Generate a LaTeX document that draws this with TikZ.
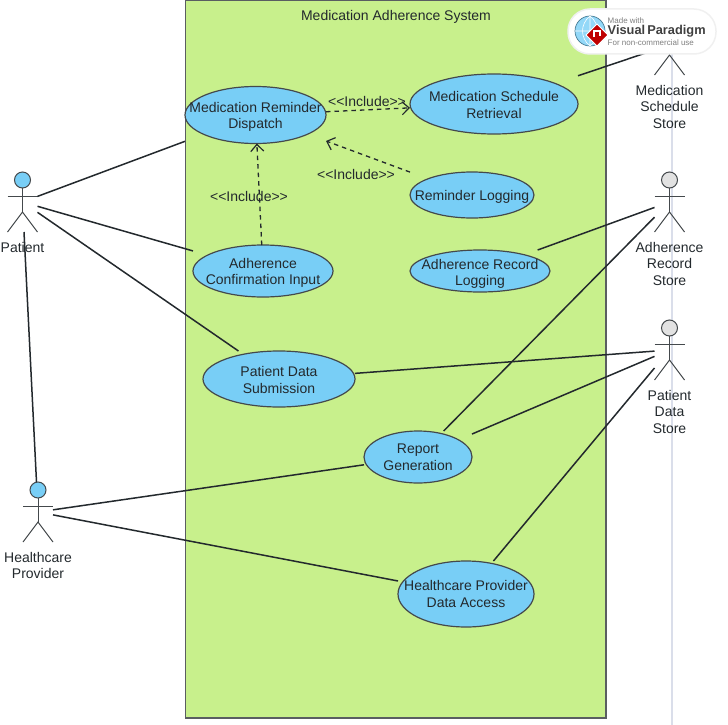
\documentclass[tikz,border=0pt]{standalone}
\usepackage{fontspec}
\setmainfont{Liberation Sans}
\usetikzlibrary{arrows.meta}
\definecolor{sysgreen}{HTML}{C8F08C}
\definecolor{caseblue}{HTML}{78CEF6}
\definecolor{storegray}{HTML}{E2E2E2}
\definecolor{inkdark}{HTML}{23292D}
\definecolor{seamgray}{HTML}{DADEEA}
\tikzset{
    linkline/.style={draw=inkdark,line width=1.5pt},
    includeline/.style={draw=inkdark,line width=1.3pt,dash pattern=on 4.5pt off 4pt,-{Straight Barb[length=7pt,width=13pt,line width=1.2pt]}},
    labeltext/.style={font=\fontsize{14}{16.6}\selectfont,text=inkdark,align=center,inner sep=0pt,outer sep=0pt},
    casebox/.style={rectangle,inner sep=0pt,outer sep=0pt},
    caseshape/.style={fill=caseblue,draw=inkdark!85,line width=1.2pt},
    actorbox/.style={rectangle,inner sep=0pt,outer sep=0pt,minimum width=30pt,minimum height=60pt},
    actorline/.style={draw=inkdark!85,line width=1pt}
}
% ellipse drawn apart, the box round it is what the links stop at
\newcommand{\usecase}[7][2]{
    \draw[caseshape] (#3,#4) ellipse[x radius=#5pt,y radius=#6pt];
    \node[casebox,minimum width={2*#5pt},minimum height={2*#6pt}] (#2) at (#3,#4) {};
    \node[labeltext] (#2text) at (#3,#4+#1) {#7};
}
\newcommand{\actor}[5]{
    \node[actorbox] (#1) at (#2,#3) {};
    \draw[actorline,fill=#4] (#2,#3-22) circle[radius=8pt];
    \draw[actorline] (#2,#3-14) -- (#2,#3+10);
    \draw[actorline] (#2-15,#3-6) -- (#2+15,#3-6);
    \draw[actorline] (#2-15,#3+30) -- (#2,#3+10) -- (#2+15,#3+30);
    \node[labeltext,anchor=north] (#1label) at (#2,#3+40) {#5};
}
\begin{document}
\begin{tikzpicture}[x=1pt,y=-1pt]
    \useasboundingbox (0,0) rectangle (728,725);
    \draw[fill=sysgreen,draw=inkdark!75,line width=1.5pt] (185.5,0) rectangle (606,718);
    \node[labeltext] (systitle) at (396,17) {Medication Adherence System};
    \draw[seamgray,line width=2.6pt] (672,50) -- (672,725);

    \usecase{remind}{255.5}{115}{70.5}{28.5}{Medication Reminder\\Dispatch}
    \usecase[1]{schedule}{494}{104}{84}{30}{Medication Schedule\\Retrieval}
    \usecase{logging}{472}{195}{62}{23}{Reminder Logging}
    \usecase[3]{record}{480}{271}{70}{21}{Adherence Record\\Logging}
    \usecase{confirm}{263}{271}{70}{26}{Adherence\\Confirmation Input}
    \usecase[1]{submit}{279}{379}{76}{28}{Patient Data\\Submission}
    \usecase[0]{report}{418}{457}{54}{26}{Report\\Generation}
    \usecase[0]{access}{466}{594}{68}{33}{Healthcare Provider\\Data Access}

    \actor{patient}{22.5}{202}{caseblue}{Patient}
    \actor{provider}{38}{512}{caseblue}{Healthcare\\Provider}
    \actor{schedstore}{669.5}{45}{storegray}{Medication\\Schedule\\Store}
    \actor{recstore}{669.5}{202}{storegray}{Adherence\\Record\\Store}
    \actor{datastore}{669.5}{350}{storegray}{Patient\\Data\\Store}

    \draw[linkline] (patient) -- (remind);
    \draw[linkline] (patient) -- (confirm);
    \draw[linkline] (patient) -- (submit);
    \draw[linkline] (patient) -- (provider);
    \draw[linkline] (provider) -- (report);
    \draw[linkline] (provider) -- (access);
    \draw[linkline] (schedule) -- (schedstore);
    \draw[linkline] (record) -- (recstore);
    \draw[linkline] (report) -- (recstore);
    \draw[linkline] (submit) -- (datastore);
    \draw[linkline] (report) -- (datastore);
    \draw[linkline] (access) -- (datastore);

    \draw[includeline] (remind) -- (schedule);
    \draw[includeline] (logging) -- (remind);
    \draw[includeline] (confirm) -- (remind);
    \node[labeltext] (incsched) at (367,101) {<{}<Include>{}>};
    \node[labeltext] (inclog) at (356,174) {<{}<Include>{}>};
    \node[labeltext] (incconf) at (249,196) {<{}<Include>{}>};

    % badge on top of everything
    \node[fill=white,draw=black!6,line width=1.5pt,rounded corners=22pt,minimum width=148pt,minimum height=45pt,inner sep=0pt] (badge) at (642,31.5) {};
    \draw[fill=caseblue!80,draw=caseblue!60!black,line width=0.7pt] (590,31) circle[radius=15pt];
    \draw[white,line width=0.6pt] (575,31) -- (605,31) (590,16) -- (590,46) (590,16) .. controls (580,24) and (580,38) .. (590,46) (590,16) .. controls (600,24) and (600,38) .. (590,46);
    \draw[fill=red!75!black,draw=white,line width=0.8pt] (597,24) -- (608,35) -- (597,46) -- (586,35) -- cycle;
    \draw[white,line width=1.3pt] (594,37) -- (594,31) -- (600,31) -- (600,36);
    \node[anchor=west,inner sep=0pt,text=gray,font=\fontsize{8}{9}\selectfont] (badgetop) at (607.5,20.5) {Made with};
    \node[anchor=west,inner sep=0pt,text=black!75,font=\fontsize{12.8}{14}\selectfont\bfseries] (badgemid) at (607.5,31.5) {Visual\,Paradigm};
    \node[anchor=west,inner sep=0pt,text=gray,font=\fontsize{8}{9}\selectfont] (badgelow) at (607.5,42.5) {For non-commercial use};
\end{tikzpicture}
\end{document}
